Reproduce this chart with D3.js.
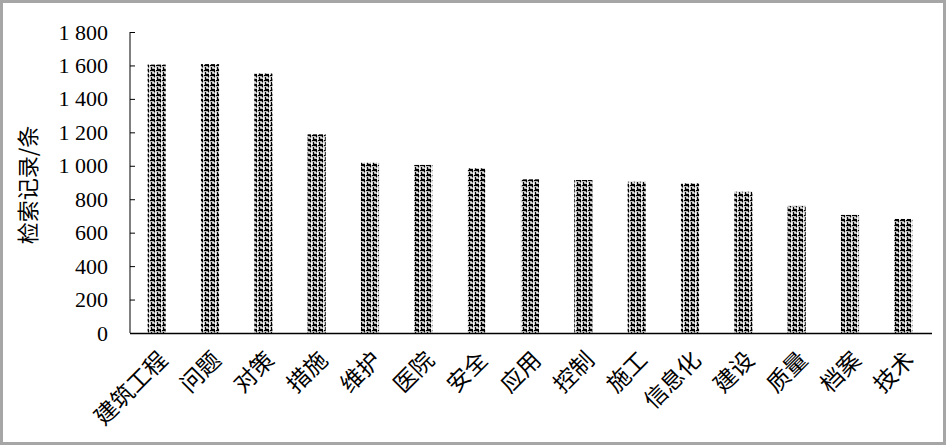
<!DOCTYPE html>
<html><head><meta charset="utf-8">
<script src="https://cdn.jsdelivr.net/npm/d3@7/dist/d3.min.js"></script>
<style>html,body{margin:0;padding:0;background:#fff;}</style>
</head><body>
<svg id="c" width="946" height="445"></svg>
<script>
const categories = ["建筑工程","问题","对策","措施","维护","医院","安全","应用","控制","施工","信息化","建设","质量","档案","技术"];
const values = [1605, 1608, 1552, 1188, 1018, 1005, 985, 919, 915, 905, 895, 845, 760, 706, 682];
const yTicks = [0,200,400,600,800,1000,1200,1400,1600,1800];
const yTitle = "检索记录/条";

(function(){
const svg = d3.select("#c");
svg.append("rect").attr("x",1.5).attr("y",1.5).attr("width",943).attr("height",442)
  .attr("fill","#fff").attr("stroke","#a6a6a6").attr("stroke-width",3);

const defs = svg.append("defs");
const pat = defs.append("pattern").attr("id","hatch").attr("patternUnits","userSpaceOnUse")
  .attr("width",6).attr("height",5);
pat.append("rect").attr("width",6).attr("height",5).attr("fill","#fff");
pat.append("path").attr("d","M0,0.5H4 M1,4.5H5 M4.5,0V2.5 M1.5,2V5").attr("stroke","#000").attr("stroke-width",1.4);

const L = 130, R = 930, T = 32, B = 333;
const x = d3.scaleBand().domain(categories).range([L,R]).paddingInner(0.66).paddingOuter(0.33);
const y = d3.scaleLinear().domain([0,1800]).range([B,T]);

svg.append("g").selectAll("rect").data(values).join("rect")
  .attr("x",(d,i)=>x(categories[i])).attr("width",x.bandwidth())
  .attr("y",d=>y(d)).attr("height",d=>B-y(d))
  .attr("fill","url(#hatch)");

const fmt = v => v>=1000 ? Math.floor(v/1000)+" "+String(v%1000).padStart(3,"0") : String(v);
const yAxis = svg.append("g").attr("transform",`translate(${L},0)`)
  .call(d3.axisLeft(y).tickValues(yTicks).tickSize(-5).tickPadding(22).tickFormat(fmt));
yAxis.select(".domain").attr("stroke","#000").attr("d",`M0,${T}V${B}`);
yAxis.selectAll(".tick line").attr("stroke","#000");
yAxis.selectAll("text").attr("font-family","'Liberation Serif',serif").attr("font-size",22).attr("fill","#000");

svg.append("line").attr("x1",L).attr("x2",932).attr("y1",B+0.5).attr("y2",B+0.5)
  .attr("stroke","#000").attr("stroke-width",1.5);

svg.append("g").selectAll("text").data(categories).join("text")
  .attr("transform",d=>`translate(${x(d)+x.bandwidth()/2+8},${B+24}) rotate(-45)`)
  .attr("text-anchor","end").attr("dominant-baseline","middle")
  .attr("font-family","'Noto Sans CJK SC',sans-serif").attr("font-size",23).attr("fill","#000")
  .text(d=>d);

svg.append("text").attr("transform","translate(30,185) rotate(-90)")
  .attr("text-anchor","middle").attr("dominant-baseline","middle")
  .attr("font-family","'Noto Sans CJK SC',sans-serif").attr("font-size",22).attr("fill","#000")
  .text(yTitle);
})();
</script>
</body></html>
